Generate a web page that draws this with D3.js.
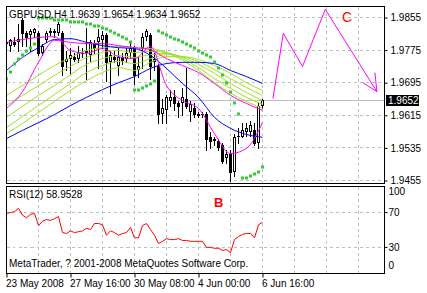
<!DOCTYPE html>
<html>
<head>
<meta charset="utf-8">
<script src="https://cdnjs.cloudflare.com/ajax/libs/d3/7.8.5/d3.min.js"></script>
<style>
  body { margin: 0; background: #fff; }
  svg text { font-family: "Liberation Sans", Arial, sans-serif; }
</style>
</head>
<body>
<div id="vis"></div>
<script>
// ---- data (GBPUSD H4) ----
const OPEN = [1.9789,1.9784,1.9796,1.9794,1.9848,1.9816,1.9811,1.9816,1.9816,1.9767,
  1.9799,1.9818,1.9818,1.9816,1.9816,1.9745,1.9754,1.9759,1.9754,1.9767,
  1.9769,1.9762,1.9789,1.9794,1.9799,1.9811,1.9745,1.9759,1.9735,1.9759,
  1.9754,1.9769,1.9781,1.9725,1.9779,1.9808,1.9811,1.9745,1.9735,1.9619,
  1.9627,1.9651,1.9659,1.9644,1.9646,1.9656,1.9622,1.9632,1.9619,1.9617,
  1.9619,1.9561,1.9553,1.9553,1.9541,1.9509,1.9519,1.9475,1.9561,1.9561,
  1.9573,1.9573,1.9578,1.9546,1.9639];
const HIGH = [1.9803,1.9803,1.9808,1.9840,1.9853,1.9823,1.9828,1.9830,1.9823,1.9791,
  1.9823,1.9830,1.9828,1.9845,1.9821,1.9774,1.9781,1.9767,1.9784,1.9779,
  1.9830,1.9799,1.9799,1.9828,1.9823,1.9816,1.9774,1.9774,1.9779,1.9769,
  1.9779,1.9794,1.9786,1.9757,1.9818,1.9828,1.9816,1.9769,1.9742,1.9656,
  1.9664,1.9676,1.9676,1.9651,1.9681,1.9730,1.9651,1.9644,1.9624,1.9622,
  1.9622,1.9573,1.9561,1.9558,1.9546,1.9529,1.9529,1.9570,1.9583,1.9597,
  1.9597,1.9602,1.9595,1.9646,1.9654];
const LOW = [1.9781,1.9774,1.9784,1.9774,1.9786,1.9786,1.9774,1.9806,1.9762,1.9762,
  1.9794,1.9811,1.9808,1.9811,1.9713,1.9725,1.9718,1.9749,1.9745,1.9757,
  1.9705,1.9749,1.9769,1.9732,1.9781,1.9700,1.9669,1.9745,1.9713,1.9740,
  1.9745,1.9759,1.9693,1.9708,1.9732,1.9799,1.9705,1.9725,1.9595,1.9595,
  1.9597,1.9639,1.9627,1.9610,1.9615,1.9632,1.9602,1.9610,1.9612,1.9612,
  1.9529,1.9534,1.9541,1.9529,1.9499,1.9499,1.9455,1.9465,1.9546,1.9561,
  1.9565,1.9565,1.9541,1.9534,1.9634];
const CLOSE = [1.9796,1.9799,1.9791,1.9803,1.9816,1.9808,1.9823,1.9826,1.9767,1.9786,
  1.9818,1.9823,1.9821,1.9840,1.9737,1.9754,1.9762,1.9754,1.9767,1.9769,
  1.9774,1.9794,1.9781,1.9806,1.9813,1.9745,1.9762,1.9754,1.9759,1.9750,
  1.9769,1.9779,1.9713,1.9735,1.9806,1.9823,1.9737,1.9754,1.9619,1.9632,
  1.9659,1.9659,1.9646,1.9639,1.9659,1.9639,1.9642,1.9619,1.9617,1.9619,
  1.9558,1.9553,1.9558,1.9536,1.9504,1.9521,1.9475,1.9561,1.9565,1.9578,
  1.9583,1.9590,1.9546,1.9639,1.9652];

// parabolic SAR
const SAR = [1.9705,1.9722,1.9740,1.9752,1.9762,1.9772,1.9781,1.9789,
  1.9855,1.9855,1.9853,1.9853,1.9850,1.9850,1.9848,1.9848,1.9845,1.9845,1.9843,1.9843,
  1.9840,1.9838,1.9835,1.9833,1.9830,1.9828,1.9823,1.9818,1.9813,1.9808,1.9803,1.9796,
  1.9676,1.9678,1.9681,1.9686,1.9693,1.9700,
  1.9823,1.9818,1.9813,1.9808,1.9803,1.9799,1.9794,1.9789,1.9784,1.9779,1.9774,
  1.9769,1.9764,1.9757,1.9747,1.9732,1.9715,1.9695,1.9671,1.9644,1.9619,
  1.9460,1.9462,1.9465,1.9470,1.9477,1.9487];

const RSI = [69,70,71,75,67,64,68,69,55,60,
  62,61,63,65.5,47,46,49,47,48,49,
  52,50.5,57.5,57.5,56,44,49,47,44,46,
  47,53,41,41,55,57.5,50.5,44,34.5,37,
  40,39,39,40,38,38,37,37,37,37,
  30,30,29,29,26.5,27.5,24,39,42.5,45,
  46,46,41,56,58.9528];

// moving averages, read every 4th bar
const MA_BARS = [0,4,8,12,16,20,24,28,32,36,40,44,48,52,56,60,64];
const MA_FAST_MAGENTA = [1.9794,1.9801,1.9806,1.9808,1.9774,1.9767,1.9779,1.9759,1.9754,1.9784,1.9688,1.9651,1.9632,1.9570,1.9521,1.9534,1.9597];
const MA_SLOW_MAGENTA = [1.9632,1.9673,1.9745,1.9799,1.9794,1.9791,1.9791,1.9786,1.9781,1.9776,1.9754,1.9737,1.9720,1.9693,1.9664,1.9644,1.9627];
const MA_FAST_BLUE = [1.9725,1.9757,1.9781,1.9801,1.9803,1.9794,1.9786,1.9781,1.9779,1.9762,1.9730,1.9693,1.9659,1.9610,1.9583,1.9568,1.9561];
const MA_SLOW_BLUE = [1.9558,1.9578,1.9597,1.9617,1.9639,1.9659,1.9678,1.9695,1.9710,1.9730,1.9742,1.9745,1.9745,1.9742,1.9725,1.9710,1.9693];
const MA_GREEN_1 = [1.9664,1.9688,1.9713,1.9737,1.9757,1.9774,1.9781,1.9784,1.9781,1.9779,1.9769,1.9750,1.9725,1.9695,1.9669,1.9649,1.9632];
const MA_GREEN_2 = [1.9639,1.9664,1.9688,1.9713,1.9735,1.9757,1.9769,1.9774,1.9769,1.9772,1.9769,1.9754,1.9732,1.9705,1.9681,1.9659,1.9642];
const MA_GREEN_3 = [1.9610,1.9637,1.9664,1.9688,1.9715,1.9740,1.9754,1.9762,1.9757,1.9764,1.9767,1.9757,1.9740,1.9718,1.9693,1.9671,1.9651];
const MA_GREEN_4 = [1.9585,1.9612,1.9639,1.9666,1.9693,1.9720,1.9737,1.9747,1.9742,1.9754,1.9764,1.9759,1.9747,1.9727,1.9705,1.9683,1.9664];
const MA_GREEN_5 = [1.9570,1.9595,1.9622,1.9649,1.9676,1.9700,1.9720,1.9732,1.9725,1.9745,1.9759,1.9759,1.9752,1.9737,1.9718,1.9695,1.9676];

// hand drawn projection (wave C)
const WAVE_BARS = [66.6, 69.2, 74, 79.7, 92.6];
const WAVE_PRICE = [1.9656, 1.9816, 1.9735, 1.9875, 1.9673];
const ARROW_BARS = [[89.1, 92.6], [92.1, 92.6]];
const ARROW_PRICE = [[1.9695, 1.9673], [1.9720, 1.9673]];

const PRICE_TICKS = [1.9855, 1.9775, 1.9695, 1.9615, 1.9535, 1.9455];
const RSI_TICKS = [100, 70, 30, 0];
const RSI_LEVELS = [70, 30];
const DATE_BARS = [0, 16, 32, 48, 64];
const DATE_LABELS = ["23 May 2008", "27 May 16:00", "30 May 08:00", "4 Jun 00:00", "6 Jun 16:00"];

// ---- layout ----
const FRAME_WIDTH = 427;
const FRAME_HEIGHT = 293;
const MAIN = {left: 6.5, right: 384.5, top: 6.5, bottom: 183.5};
const SUB = {left: 6.5, right: 384.5, top: 186.5, bottom: 273.5};

const X_SCALE = d3.scaleLinear().domain([0, 64]).range([6.5, 262.5]);
const Y_SCALE = d3.scaleLinear().domain([1.9455, 1.9855]).range([180.5, 17.5]);
const RSI_SCALE = d3.scaleLinear().domain([0, 100]).range([273.5, 186.5]);

const crisp = (v) => Math.round(v - 0.5) + 0.5;

const FRAME = d3.select("#vis")
  .append("svg")
    .attr("width", FRAME_WIDTH)
    .attr("height", FRAME_HEIGHT);

FRAME.append("rect").attr("width", FRAME_WIDTH).attr("height", FRAME_HEIGHT).attr("fill", "#fff");

const defs = FRAME.append("defs");
defs.append("clipPath").attr("id", "clipMain").append("rect")
  .attr("x", MAIN.left + 0.5).attr("y", MAIN.top + 0.5)
  .attr("width", MAIN.right - MAIN.left - 1).attr("height", MAIN.bottom - MAIN.top - 1);
defs.append("clipPath").attr("id", "clipSub").append("rect")
  .attr("x", SUB.left + 0.5).attr("y", SUB.top + 0.5)
  .attr("width", SUB.right - SUB.left - 1).attr("height", SUB.bottom - SUB.top - 1);

const GRID_BARS = d3.range(8, 92, 8);

// grid in main window
const mainGrid = FRAME.append("g").attr("clip-path", "url(#clipMain)")
  .attr("stroke", "#c0c0c0").attr("stroke-dasharray", "3,3").attr("shape-rendering", "crispEdges");
mainGrid.selectAll(".hg").data(PRICE_TICKS).enter().append("line")
  .attr("x1", MAIN.left).attr("x2", MAIN.right)
  .attr("y1", d => crisp(Y_SCALE(d))).attr("y2", d => crisp(Y_SCALE(d)));
mainGrid.selectAll(".vg").data(GRID_BARS).enter().append("line")
  .attr("x1", d => X_SCALE(d)).attr("x2", d => X_SCALE(d))
  .attr("y1", MAIN.top).attr("y2", MAIN.bottom);

// grid in RSI window
const subGrid = FRAME.append("g").attr("clip-path", "url(#clipSub)")
  .attr("stroke", "#c0c0c0").attr("stroke-dasharray", "3,3").attr("shape-rendering", "crispEdges");
subGrid.selectAll(".hg").data(RSI_LEVELS).enter().append("line")
  .attr("x1", SUB.left).attr("x2", SUB.right)
  .attr("y1", d => crisp(RSI_SCALE(d))).attr("y2", d => crisp(RSI_SCALE(d)));
subGrid.selectAll(".vg").data(GRID_BARS).enter().append("line")
  .attr("x1", d => X_SCALE(d)).attr("x2", d => X_SCALE(d))
  .attr("y1", SUB.top).attr("y2", SUB.bottom);

// current price line
FRAME.append("line")
  .attr("x1", MAIN.left).attr("x2", MAIN.right)
  .attr("y1", crisp(Y_SCALE(CLOSE[64]))).attr("y2", crisp(Y_SCALE(CLOSE[64])))
  .attr("stroke", "#c0c0c0").attr("shape-rendering", "crispEdges");

// candles
const bars = OPEN.map((o, i) => ({i: i, o: o, h: HIGH[i], l: LOW[i], c: CLOSE[i]}));
const candles = FRAME.append("g").attr("clip-path", "url(#clipMain)").attr("shape-rendering", "crispEdges");
candles.selectAll(".wick").data(bars).enter().append("line")
  .attr("x1", d => X_SCALE(d.i)).attr("x2", d => X_SCALE(d.i))
  .attr("y1", d => Math.round(Y_SCALE(d.h))).attr("y2", d => Math.round(Y_SCALE(d.l)) + 1)
  .attr("stroke", "#000");
candles.selectAll(".body").data(bars).enter().append("rect")
  .attr("x", d => d.c >= d.o ? X_SCALE(d.i) - 1 : X_SCALE(d.i) - 1.5)
  .attr("width", d => d.c >= d.o ? 2 : 3)
  .attr("y", d => {
    const top = Math.round(Y_SCALE(Math.max(d.o, d.c)));
    return d.c >= d.o ? top + 0.5 : top;
  })
  .attr("height", d => {
    const h = Math.max(1, Math.round(Y_SCALE(Math.min(d.o, d.c))) - Math.round(Y_SCALE(Math.max(d.o, d.c))));
    return d.c >= d.o ? Math.max(h - 1, 0.01) : h + 1;
  })
  .attr("fill", d => d.c >= d.o ? "#fff" : "#000")
  .attr("stroke", d => d.c >= d.o ? "#000" : "none");

// moving averages
const maLine = d3.line()
  .x((d, i) => X_SCALE(MA_BARS[i]))
  .y(d => Y_SCALE(d))
  .curve(d3.curveMonotoneX);
const MA_LIST = [
  [MA_GREEN_5, "#9be21e"], [MA_GREEN_4, "#9be21e"], [MA_GREEN_3, "#9be21e"],
  [MA_GREEN_2, "#9be21e"], [MA_GREEN_1, "#9be21e"],
  [MA_SLOW_BLUE, "#0000ff"], [MA_FAST_BLUE, "#0000ff"],
  [MA_SLOW_MAGENTA, "#ff00ff"], [MA_FAST_MAGENTA, "#ff00ff"]
];
const maGroup = FRAME.append("g").attr("clip-path", "url(#clipMain)");
maGroup.selectAll(".ma").data(MA_LIST).enter().append("path")
  .attr("d", d => maLine(d[0]))
  .attr("fill", "none")
  .attr("stroke", d => d[1])
  .attr("stroke-width", 1);

// parabolic SAR dots
maGroup.selectAll(".sar").data(SAR).enter().append("rect")
  .attr("x", (d, i) => X_SCALE(i) - 1.5)
  .attr("y", d => Math.round(Y_SCALE(d)) - 1.5)
  .attr("width", 3).attr("height", 3)
  .attr("fill", "#33cc33");

// wave projection
const waveLine = d3.line()
  .x(d => X_SCALE(d[0]))
  .y(d => Y_SCALE(d[1]));
maGroup.append("path")
  .attr("d", waveLine(WAVE_BARS.map((b, i) => [b, WAVE_PRICE[i]])))
  .attr("fill", "none").attr("stroke", "#ff00ff");
maGroup.selectAll(".barb").data(ARROW_BARS).enter().append("path")
  .attr("d", (d, k) => waveLine(d.map((b, j) => [b, ARROW_PRICE[k][j]])))
  .attr("fill", "none").attr("stroke", "#ff00ff");

// RSI line
const rsiLine = d3.line()
  .x((d, i) => X_SCALE(i))
  .y(d => RSI_SCALE(d));
FRAME.append("path")
  .attr("clip-path", "url(#clipSub)")
  .attr("d", rsiLine(RSI))
  .attr("fill", "none").attr("stroke", "#ff0000");

// frames
[MAIN, SUB].forEach(p => {
  FRAME.append("rect")
    .attr("x", p.left).attr("y", p.top)
    .attr("width", p.right - p.left).attr("height", p.bottom - p.top)
    .attr("fill", "none").attr("stroke", "#000").attr("shape-rendering", "crispEdges");
});

// price axis
const priceAxis = FRAME.append("g")
  .attr("transform", "translate(" + MAIN.right + ",0)")
  .call(d3.axisRight(Y_SCALE).tickValues(PRICE_TICKS).tickSize(3).tickPadding(3)
    .tickFormat(d3.format(".4f")));
priceAxis.select(".domain").remove();
priceAxis.selectAll("text").attr("font-size", "10px").attr("font-family", "Liberation Sans");

// current price tag
FRAME.append("rect")
  .attr("x", 386).attr("y", crisp(Y_SCALE(CLOSE[64])) - 5.5)
  .attr("width", 33).attr("height", 11).attr("fill", "#000");
FRAME.append("text")
  .attr("x", 388).attr("y", crisp(Y_SCALE(CLOSE[64])) + 3.5)
  .attr("font-size", "10px").attr("fill", "#fff")
  .text(d3.format(".4f")(CLOSE[64]));

// RSI axis
const rsiAxis = FRAME.append("g")
  .attr("transform", "translate(" + SUB.right + ",0)")
  .call(d3.axisRight(RSI_SCALE).tickValues(RSI_TICKS).tickSize(3).tickPadding(1));
rsiAxis.select(".domain").remove();
rsiAxis.selectAll(".tick")
  .attr("transform", d => "translate(0," + Math.min(Math.max(RSI_SCALE(d), 192), 266) + ")");
rsiAxis.selectAll(".tick line").attr("stroke-opacity", d => (d === 100 || d === 0) ? 0 : 1);
rsiAxis.selectAll("text").attr("font-size", "10px").attr("font-family", "Liberation Sans");

// date axis
const dateAxis = FRAME.append("g")
  .attr("transform", "translate(0," + SUB.bottom + ")")
  .call(d3.axisBottom(X_SCALE).tickValues(DATE_BARS).tickSize(4).tickPadding(2)
    .tickFormat((d, i) => DATE_LABELS[i]));
dateAxis.select(".domain").remove();
dateAxis.selectAll("text").attr("text-anchor", "start").attr("dx", "-1")
  .attr("font-size", "10px").attr("font-family", "Liberation Sans");

// texts
FRAME.append("text").attr("x", 9).attr("y", 18).attr("font-size", "10px")
  .text("GBPUSD,H4  1.9639 1.9654 1.9634 1.9652");
FRAME.append("text").attr("x", 9).attr("y", 198).attr("font-size", "10px")
  .text("RSI(12) 58.9528");
FRAME.append("text").attr("x", 9).attr("y", 267).attr("font-size", "10px")
  .text("MetaTrader, ? 2001-2008 MetaQuotes Software Corp.");
FRAME.append("text").attr("x", 342).attr("y", 22).attr("font-size", "14px")
  .attr("font-family", "Liberation Serif").attr("fill", "#ff0000").text("C");
FRAME.append("text").attr("x", 214).attr("y", 207).attr("font-size", "13px")
  .attr("font-family", "Liberation Serif").attr("font-weight", "bold").attr("fill", "#ff0000").text("B");
</script>
</body>
</html>
